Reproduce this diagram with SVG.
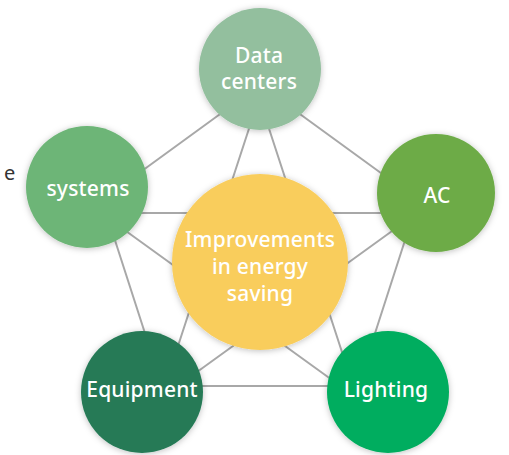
<svg xmlns="http://www.w3.org/2000/svg" width="509" height="455" viewBox="0 0 509 455">
<style>
.ln{fill:none;stroke:#a8a8a8;stroke-width:2;stroke-linejoin:round}
.c{filter:url(#sh)}
.t{font-family:"Noto Sans","Open Sans","Liberation Sans",sans-serif;font-size:21px;font-weight:500;letter-spacing:0.2px;fill:#ffffff;text-anchor:middle}
</style>
<defs>
<filter id="sh" x="-30%" y="-30%" width="160%" height="160%">
<feDropShadow dx="0" dy="1" stdDeviation="3" flood-color="#000" flood-opacity="0.25"/>
</filter>
</defs>
<rect width="509" height="455" fill="#ffffff"/>
<text x="4" y="180" font-family="Noto Sans, Liberation Sans, sans-serif" font-size="20" fill="#333333">e</text>
<g id="connectors">
<polygon class="ln" points="260,85 418,200 358,386 162,386 102,200"/>
<polygon class="ln" points="259,98 357,398 101,213 417,213 161,398"/>
</g>
<g id="center">
<circle class="c" cx="260" cy="262" r="88" fill="#f9cd5c"/>
<text class="t" x="260" y="247">Improvements</text>
<text class="t" x="260" y="274">in energy</text>
<text class="t" x="260" y="301">saving</text>
</g>
<g id="datacenters">
<circle class="c" cx="260" cy="69" r="61" fill="#93bf9e"/>
<text class="t" x="259" y="63">Data</text>
<text class="t" x="259" y="89">centers</text>
</g>
<g id="ac">
<circle class="c" cx="436" cy="193" r="59" fill="#6dab47"/>
<text class="t" x="437" y="203">AC</text>
</g>
<g id="lighting">
<circle class="c" cx="388" cy="392" r="61" fill="#04ad5e"/>
<text class="t" x="386" y="397">Lighting</text>
</g>
<g id="equipment">
<circle class="c" cx="142" cy="392" r="61" fill="#257a56"/>
<text class="t" x="142" y="397">Equipment</text>
</g>
<g id="systems">
<circle class="c" cx="87" cy="187" r="61" fill="#6db577"/>
<text class="t" x="88" y="196">systems</text>
</g>
</svg>
